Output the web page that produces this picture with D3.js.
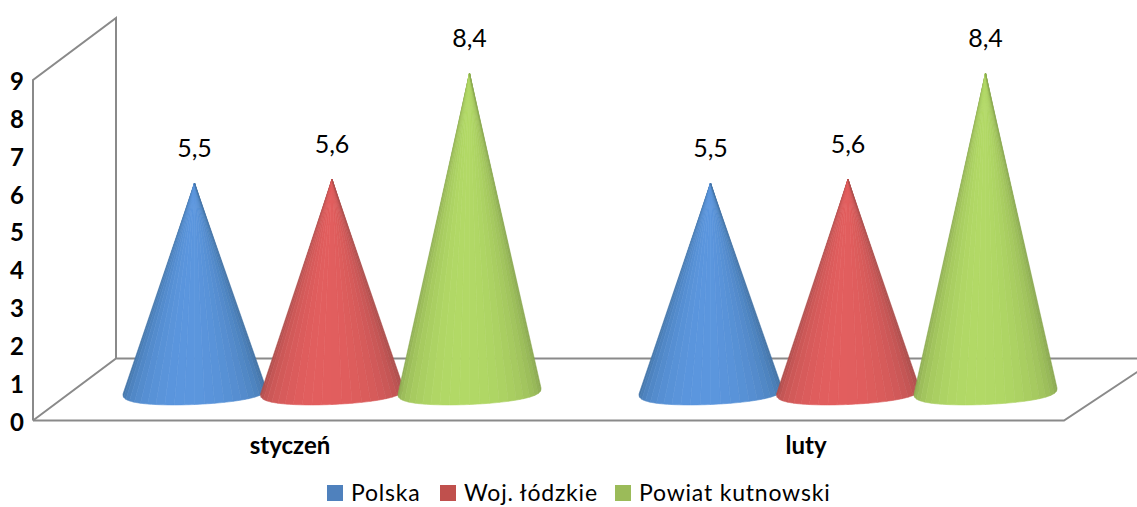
<!DOCTYPE html>
<html>
<head>
<meta charset="utf-8">
<script src="https://cdn.jsdelivr.net/npm/d3@7"></script>
<style>
    body { margin: 0; background: #fff; }
    svg { display: block; font-family: Lato, "Open Sans", sans-serif; }
</style>
</head>
<body>
<div id="chart"></div>
<script>
const categories = ["styczeń", "luty"];
const seriesNames = ["Polska", "Woj. łódzkie", "Powiat kutnowski"];
const polska = [5.5, 5.5];
const lodzkie = [5.6, 5.6];
const kutnowski = [8.4, 8.4];
const yTicks = [0, 1, 2, 3, 4, 5, 6, 7, 8, 9];
const seriesValues = [polska, lodzkie, kutnowski];

// edge / middle colours of each cone, legend swatch
const coneDark = ["#41709f", "#a54d4b", "#87a350"];
const coneLight = ["#5b96de", "#e25e5e", "#b2d966"];
const swatch = ["#4f81bd", "#c0504d", "#9bbb59"];

const width = 1137, height = 507;
const svg = d3.select("#chart").append("svg")
    .attr("width", width)
    .attr("height", height);

// 3d box
const depthX = 83, depthY = -62;
const frontX = 33, frontRight = 1064;
const y0Front = 420.5;

// value scale of the front wall
const yScale = d3.scaleLinear().domain([0, 9]).range([y0Front, 80]);
// value scale of the cones, same unit but standing on the floor
const coneBase = 391.6;
const unit = 37.9;
const coneY = d3.scaleLinear().domain([0, 1]).range([coneBase, coneBase - unit]);

const x0 = d3.scaleBand().domain(categories).range([74, 1106]);
const x1 = d3.scaleBand().domain(seriesNames).range([-206.25, 206.25]);

const wall = svg.append("g")
    .attr("fill", "none")
    .attr("stroke", "#8a8a8a")
    .attr("stroke-width", 2);

wall.append("path")
    .attr("d", `M${frontX},${y0Front}V${yScale(9)}L${frontX + depthX},${yScale(9) + depthY}V${y0Front + depthY}`);
wall.append("path")
    .attr("d", `M${frontX},${y0Front}H${frontRight}L${frontRight + depthX},${y0Front + depthY + 7}`)
    .attr("stroke-linejoin", "miter");
wall.append("path")
    .attr("d", `M${frontX},${y0Front}L${frontX + depthX},${y0Front + depthY}H${width}`);

// y labels
svg.append("g").selectAll("text")
    .data(yTicks)
    .enter()
    .append("text")
    .attr("x", 17)
    .attr("y", d => yScale(d) + 1.5)
    .attr("dy", "0.36em")
    .attr("text-anchor", "middle")
    .style("font-size", "24px")
    .style("font-weight", "bold")
    .attr("fill", "#000")
    .text(d => d);

// one cone is a fan of flat facets from apex to the base curve
const rx = 71.5, ry = 13.5, facets = 22;
const tilt = -0.042; // base runs slightly uphill to the right
const colorAt = (s, t) => {
    let k = Math.pow(Math.sin(Math.PI * Math.pow(t, 0.9)), 0.8);
    return d3.interpolateRgb(coneDark[s], coneLight[s])(k);
};

function basePoint(cx, a) {
    let dx = -rx * Math.cos(a);
    // power below 1 blunts the two corners of the base
    let dy = ry * Math.pow(Math.max(Math.sin(a), 0), 0.72);
    return [cx + dx, coneBase - 0.6 + dy + tilt * dx];
}

function drawCone(g, s, cx, value) {
    let apexY = coneY(value);
    const sub = 4;
    for (let i = 0; i < facets; i++) {
        let pts = [];
        for (let j = 0; j <= sub; j++) {
            pts.push(basePoint(cx, Math.PI * (i + j / sub) / facets));
        }
        let col = colorAt(s, (i + 0.5) / facets);
        g.append("path")
            .attr("d", `M${cx},${apexY}L` + pts.map(p => p.join(",")).join("L") + "Z")
            .attr("fill", col)
            .attr("stroke", col)
            .attr("stroke-width", 0.6);
    }
}

categories.forEach((cat, c) => {
    let g = svg.append("g").attr("class", "group");
    seriesNames.forEach((name, s) => {
        let cx = x0(cat) + x0.bandwidth() / 2 + x1(name) + x1.bandwidth() / 2;
        let value = seriesValues[s][c];
        drawCone(g, s, cx, value);
        g.append("text")
            .attr("x", cx)
            .attr("y", coneY(value) - 26)
            .attr("text-anchor", "middle")
            .style("font-size", "25px")
            .attr("fill", "#000")
            .text(String(value).replace(".", ","));
    });
    svg.append("text")
        .attr("x", x0(cat) + x0.bandwidth() / 2 - 42)
        .attr("y", 454)
        .attr("text-anchor", "middle")
        .style("font-size", "24px")
        .style("font-weight", "bold")
        .attr("fill", "#000")
        .text(cat);
});

// legend
const legendX = [327, 440, 615];
const legend = svg.append("g");
seriesNames.forEach((name, i) => {
    legend.append("rect")
        .attr("x", legendX[i])
        .attr("y", 485)
        .attr("width", 16)
        .attr("height", 16)
        .attr("fill", swatch[i]);
    legend.append("text")
        .attr("x", legendX[i] + 24)
        .attr("y", 501)
        .style("font-size", "23px")
        .style("letter-spacing", "0.8px")
        .attr("fill", "#000")
        .text(name);
});
</script>
</body>
</html>
